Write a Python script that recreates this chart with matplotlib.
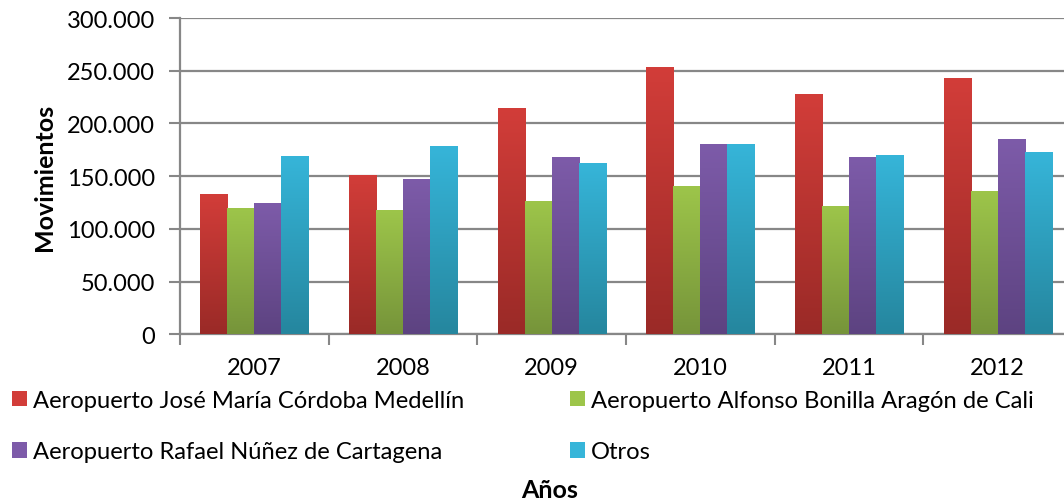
import numpy as np
import matplotlib
matplotlib.use("Agg")
import matplotlib.pyplot as plt
from matplotlib.colors import LinearSegmentedColormap
from matplotlib.patches import Patch

# Data
years = ["2007", "2008", "2009", "2010", "2011", "2012"]
series_names = [
    "Aeropuerto José María Córdoba Medellín",
    "Aeropuerto Alfonso Bonilla Aragón de Cali",
    "Aeropuerto Rafael Núñez de Cartagena",
    "Otros",
]
medellin = [132000, 150000, 213500, 252500, 227000, 242000]
cali = [119000, 117000, 125500, 139500, 120500, 135000]
cartagena = [123500, 146500, 167000, 179500, 167000, 184500]
otros = [168000, 177500, 161500, 179500, 169000, 172000]
values = [medellin, cali, cartagena, otros]

# (top colour, bottom colour) of each gradient
top_colors = ["#D23D39", "#9DC54A", "#7D5BA9", "#36B5D9"]
bottom_colors = ["#9A2A27", "#76943A", "#5D4381", "#25869E"]

plt.rcParams['font.family'] = ['Lato', 'DejaVu Sans']

fig = plt.figure(figsize=(10.64, 5.02), dpi=100)
ax = fig.add_axes([180 / 1064, 166.7 / 502, 892 / 1064, 316.3 / 502])

x = np.arange(len(years))
bar_w = 1 / 5.5
for i, vals in enumerate(values):
    pos = x + (i - 1.5) * bar_w
    bars = ax.bar(pos, vals, width=bar_w, color=top_colors[i], linewidth=0, zorder=2)
    cmap = LinearSegmentedColormap.from_list("g%d" % i, [bottom_colors[i], top_colors[i]])
    grad = np.linspace(0, 1, 256).reshape(-1, 1)
    for b in bars:
        x0, w, h = b.get_x(), b.get_width(), b.get_height()
        ax.imshow(grad, cmap=cmap, origin="lower", aspect="auto",
                  extent=[x0, x0 + w, 0, h], zorder=3, interpolation="bilinear")

ax.set_xlim(-0.5, len(years) - 0.5)
ax.set_ylim(0, 300000)
ax.set_aspect("auto")

grid_c = "#878787"
ax.set_yticks(np.arange(0, 300001, 50000))
ax.set_yticklabels([f"{int(v):,}".replace(",", ".") for v in ax.get_yticks()], fontsize=17)
ax.yaxis.grid(True, color=grid_c, linewidth=1.6, zorder=0)
ax.set_axisbelow(True)

ax.set_xticks(x)
ax.set_xticklabels(years, fontsize=17)
ax.set_xticks(np.arange(-0.5, len(years)), minor=True)
ax.tick_params(axis="x", which="major", length=0, pad=16)
ax.tick_params(axis="x", which="minor", length=8, width=1.5, color=grid_c, direction="out")
ax.tick_params(axis="y", length=8, width=1.5, color=grid_c, direction="out", pad=10)

for s in ["top", "right"]:
    ax.spines[s].set_visible(False)
for s in ["left", "bottom"]:
    ax.spines[s].set_color(grid_c)
    ax.spines[s].set_linewidth(1.6)

ax.set_ylabel("Movimientos", fontsize=18, fontweight="bold")
ax.yaxis.set_label_coords((56 - 180) / 892, 0.5)
fig.text(550 / 1064, 1 - 491 / 502, "Años", fontsize=18, fontweight="bold",
         ha="center", va="center")

# legend filled column-wise, so order handles to read row by row
order = [0, 2, 1, 3]
handles = [Patch(facecolor=top_colors[k], edgecolor="none") for k in order]
labels = [series_names[k] for k in order]
fig.legend(handles, labels, loc="upper left", ncol=2,
           bbox_to_anchor=(12 / 1064, 1 - 391 / 502), frameon=False, fontsize=17.1,
           borderpad=0, borderaxespad=0,
           handlelength=0.63, handleheight=0.63, handletextpad=0.25,
           columnspacing=4.45, labelspacing=1.28)

fig.savefig("out.png", dpi=100)
